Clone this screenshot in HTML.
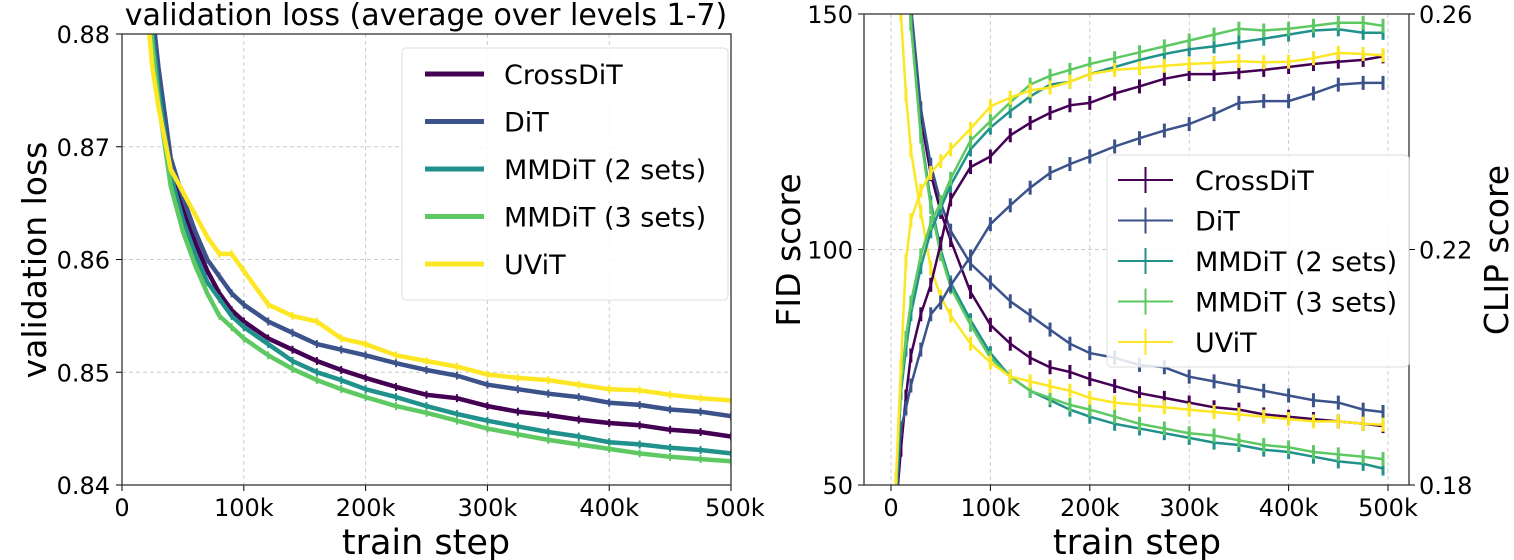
<!DOCTYPE html>
<html><head><meta charset="utf-8"><style>
body{margin:0;background:#fff;}
svg{display:block;font-family:"DejaVu Sans","Liberation Sans",sans-serif;}
</style></head><body>
<svg id="chart" width="1514" height="560" viewBox="0 0 1514 560">
<defs>
<clipPath id="clipL"><rect x="122" y="34" width="609" height="451"/></clipPath>
<clipPath id="clipR"><rect x="864" y="14" width="545" height="471"/></clipPath>
</defs>
<g id="left"></g>
<g id="right"></g>
</svg>
<script>
const names=["CrossDiT","DiT","MMDiT (2 sets)","MMDiT (3 sets)","UViT"];
const colors=["#440154","#3b528b","#21918c","#5ec962","#fde725"];
// left chart data
const stepsL=[15,20,25,30,40,50,60,70,80,90,100,120,140,160,180,200,225,250,275,300,325,350,375,400,425,450,475,500];
const lossCross=[.895,.888,.881,.876,.8685,.8645,.8615,.859,.857,.8555,.8545,.853,.852,.851,.8502,.8495,.8487,.848,.8477,.847,.8465,.8462,.8458,.8455,.8453,.8449,.8447,.8443];
const lossDiT=[.896,.889,.882,.877,.869,.8655,.8625,.860,.8585,.857,.856,.8545,.8535,.8525,.852,.8515,.8508,.8502,.8497,.8489,.8485,.8481,.8478,.8473,.8471,.8467,.8465,.8461];
const lossMM2=[.894,.887,.880,.875,.8675,.8635,.8605,.858,.8565,.855,.854,.8525,.851,.850,.8493,.8485,.8478,.847,.8463,.8457,.8452,.8447,.8443,.8438,.8436,.8433,.8431,.8428];
const lossMM3=[.893,.886,.879,.874,.8665,.8625,.8595,.857,.855,.854,.853,.8515,.8503,.8493,.8485,.8478,.847,.8464,.8457,.845,.8445,.844,.8436,.8432,.8428,.8425,.8423,.8421];
const lossUViT=[.889,.883,.877,.8735,.868,.866,.864,.862,.8605,.8605,.859,.856,.855,.8545,.853,.8525,.8515,.851,.8505,.8498,.8495,.8493,.8489,.8485,.8484,.848,.8477,.8475];
const xTicksL=[0,100,200,300,400,500];
const xTickLabelsL=["0","100k","200k","300k","400k","500k"];
const yTicksL=[0.84,0.85,0.86,0.87,0.88];
// right chart data
const stepsR=[5,10,15,20,30,40,50,60,80,100,120,140,160,180,200,225,250,275,300,325,350,375,400,425,450,475,495];
const fidCross=[260,210,175,150,128,116,108,102,91,84,80,77,75,74,72.5,71,69.5,68.5,67.5,66.5,66,65,64.5,64,63.5,63,62.5];
const fidDiT=[260,210,175,152,130,118,110,104,97,93,89,86,83,80,78,77,75.5,75,73,72,71,70,69,68,67.5,66,65.5];
const fidMM2=[250,200,170,148,125,110,100,93,85,78,73,70,68,66,64.5,63,62,61,60,59,58.5,57.5,57,56,55,54.5,53.5];
const fidMM3=[250,200,170,148,124,109,99,92,84,77,73,70,68.5,67,66,64.5,63,62,61,60.5,59.5,58.5,58,57,56.5,56,55.5];
const fidUViT=[165,150,133,121,108,96,90,86,80,76,73,72,71,70,68.5,67.5,67,66.5,66,65.5,65,64.5,64,63.5,63.5,63,62.8];
const clipCross=[.176,.186,.195,.202,.209,.214,.221,.2285,.234,.2358,.2394,.2415,.2432,.2445,.2449,.2465,.2477,.249,.2498,.2498,.2501,.2505,.251,.2515,.2519,.2522,.2528];
const clipDiT=[.176,.1896,.193,.1969,.203,.209,.211,.2139,.2188,.2243,.2275,.2305,.233,.2345,.2358,.2375,.2389,.2402,.2413,.243,.2449,.2452,.2452,.2465,.248,.2483,.2483];
const clipMM2=[.178,.1957,.203,.209,.217,.2231,.227,.2309,.237,.2407,.2435,.246,.248,.2485,.2498,.251,.2522,.2532,.254,.2545,.2552,.2558,.2565,.2572,.2574,.2568,.2568];
const clipMM3=[.179,.197,.205,.211,.219,.2245,.228,.232,.2385,.2418,.245,.248,.2495,.2505,.2515,.2525,.2535,.2545,.2555,.2565,.2575,.2572,.2575,.258,.2585,.2585,.258];
const clipUViT=[.181,.200,.218,.225,.230,.233,.235,.237,.2405,.2443,.2458,.247,.2475,.2485,.2498,.2505,.2508,.2512,.2515,.2517,.252,.2518,.2519,.2525,.2534,.2532,.253];
const fidTicks=[50,100,150];
const clipTicks=[0.18,0.22,0.26];
const xTicksR=[0,100,200,300,400,500];
const xTickLabelsR=["0","100k","200k","300k","400k","500k"];

const NS="http://www.w3.org/2000/svg";
function mk(parent,tag,attrs,text){const e=document.createElementNS(NS,tag);for(const k in attrs)e.setAttribute(k,attrs[k]);if(text!==undefined)e.textContent=text;parent.appendChild(e);return e;}

// ---------- LEFT ----------
const L=document.getElementById('left');
const xL=v=>122+(v/500)*609;
const yL=v=>485-(v-0.84)/0.04*451;
xTicksL.forEach((t,i)=>{
  if(t>0&&t<500){const g=mk(L,'line',{x1:xL(t),x2:xL(t),y1:34,y2:485,stroke:'#ccc','stroke-dasharray':'4,3','stroke-width':1});
  
  }
  const tk=mk(L,'line',{x1:xL(t),x2:xL(t),y1:485,y2:491,stroke:'#000','stroke-width':1});
  
  
  const lb=mk(L,'text',{x:xL(t),y:516,'font-size':24,'text-anchor':i==5?'start':'middle'},xTickLabelsL[i]);
  if(i==5)lb.setAttribute('x',xL(t)-26);
  
  
});
yTicksL.forEach(t=>{
  if(t>0.84&&t<0.88){const g=mk(L,'line',{x1:122,x2:731,y1:yL(t),y2:yL(t),stroke:'#ccc','stroke-dasharray':'4,3','stroke-width':1});
  
  }
  const tk=mk(L,'line',{x1:116,x2:122,y1:yL(t),y2:yL(t),stroke:'#000'});
  
  
  const lb=mk(L,'text',{x:110,y:yL(t)+9,'font-size':24,'text-anchor':'end'},t.toFixed(2));
  
  
});
const lossSeries=[lossCross,lossDiT,lossMM2,lossMM3,lossUViT];
const gl=mk(L,'g',{'clip-path':'url(#clipL)'});


lossSeries.forEach((s,k)=>{
  const d=s.map((v,i)=>(i?'L':'M')+xL(stepsL[i]).toFixed(1)+','+yL(v).toFixed(1)).join('');
  const p=mk(gl,'path',{d:d,fill:'none',stroke:colors[k],'stroke-width':4.5,'stroke-linejoin':'round'});
  
  
  s.forEach((v,i)=>{const m=mk(gl,'line',{x1:xL(stepsL[i]),x2:xL(stepsL[i]),y1:yL(v)-4,y2:yL(v)+4,stroke:colors[k],'stroke-width':2});
  
  });
});
const fL=mk(L,'rect',{x:122,y:34,width:609,height:451,fill:'none',stroke:'#333','stroke-width':1.3});


const tL=mk(L,'text',{x:426,y:25,'font-size':30,'text-anchor':'middle'},'validation loss (average over levels 1-7)');


const xlL=mk(L,'text',{x:426,y:554,'font-size':35,'text-anchor':'middle'},'train step');


const ylL=mk(L,'text',{x:0,y:0,'font-size':33,'text-anchor':'middle',transform:'translate(46,260) rotate(-90)'},'validation loss');


const lgL=mk(L,'g',{});


mk(lgL,'rect',{x:402,y:48,width:326,height:252,rx:4,fill:'rgba(255,255,255,0.85)',stroke:'#ddd'});
names.forEach((n,k)=>{
  const y=74+k*47.5;
  const ln=mk(lgL,'line',{x1:425,x2:484,y1:y,y2:y,stroke:colors[k],'stroke-width':5});
  
  
  const t=mk(lgL,'text',{x:504,y:y+10,'font-size':27},n);
  
  
});

// ---------- RIGHT ----------
const R=document.getElementById('right');
const xR=v=>891+(v/500)*497;
const yF=v=>485-(v-50)/100*471;
const yC=v=>485-(v-0.18)/0.08*471;
xTicksR.forEach((t,i)=>{
  const g=mk(R,'line',{x1:xR(t),x2:xR(t),y1:14,y2:485,stroke:'#ccc','stroke-dasharray':'4,3'});
  
  
  const tk=mk(R,'line',{x1:xR(t),x2:xR(t),y1:485,y2:491,stroke:'#000'});
  
  
  const lb=mk(R,'text',{x:xR(t),y:516,'font-size':24,'text-anchor':'middle'},xTickLabelsR[i]);
  
  
});
fidTicks.forEach(t=>{
  if(t>50&&t<150){const g=mk(R,'line',{x1:864,x2:1409,y1:yF(t),y2:yF(t),stroke:'#ccc','stroke-dasharray':'4,3'});
  
  }
  const tk=mk(R,'line',{x1:858,x2:864,y1:yF(t),y2:yF(t),stroke:'#000'});
  
  
  const lb=mk(R,'text',{x:853,y:yF(t)+9,'font-size':24,'text-anchor':'end'},String(t));
  
  
});
clipTicks.forEach(t=>{
  const tk=mk(R,'line',{x1:1409,x2:1415,y1:yC(t),y2:yC(t),stroke:'#000'});
  
  
  const lb=mk(R,'text',{x:1419,y:yC(t)+9,'font-size':24},t.toFixed(2));
  
  
});
const fidSeries=[fidCross,fidDiT,fidMM2,fidMM3,fidUViT];
const clipSeries=[clipCross,clipDiT,clipMM2,clipMM3,clipUViT];
const gr=mk(R,'g',{'clip-path':'url(#clipR)'});


function drawSeries(s,yf,k,kind){
  const d=s.map((v,i)=>(i?'L':'M')+xR(stepsR[i]).toFixed(1)+','+yf(v).toFixed(1)).join('');
  const p=mk(gr,'path',{d:d,fill:'none',stroke:colors[k],'stroke-width':2.5});
  
  
  s.forEach((v,i)=>{const m=mk(gr,'line',{x1:xR(stepsR[i]),x2:xR(stepsR[i]),y1:yf(v)-7,y2:yf(v)+7,stroke:colors[k],'stroke-width':3});
  
  });
}
fidSeries.forEach((s,k)=>drawSeries(s,yF,k,'fid'));
clipSeries.forEach((s,k)=>drawSeries(s,yC,k,'clip'));
const fR=mk(R,'rect',{x:864,y:14,width:545,height:471,fill:'none',stroke:'#333','stroke-width':1.3});


const xlR=mk(R,'text',{x:1137,y:554,'font-size':35,'text-anchor':'middle'},'train step');


const ylR=mk(R,'text',{x:0,y:0,'font-size':33,'text-anchor':'middle',transform:'translate(800,250) rotate(-90)'},'FID score');


const ylR2=mk(R,'text',{x:0,y:0,'font-size':33,'text-anchor':'middle',transform:'translate(1508,250) rotate(-90)'},'CLIP score');


const lgR=mk(R,'g',{});


mk(lgR,'rect',{x:1107,y:155,width:302,height:212,rx:4,fill:'rgba(255,255,255,0.85)',stroke:'#ddd'});
names.forEach((n,k)=>{
  const y=180+k*40.5;
  const ln=mk(lgR,'line',{x1:1118,x2:1173,y1:y,y2:y,stroke:colors[k],'stroke-width':2});
  
  
  const vb=mk(lgR,'line',{x1:1145.5,x2:1145.5,y1:y-13,y2:y+13,stroke:colors[k],'stroke-width':2});
  
  
  const t=mk(lgR,'text',{x:1195,y:y+10,'font-size':27},n);
  
  
});
</script>
</body></html>
